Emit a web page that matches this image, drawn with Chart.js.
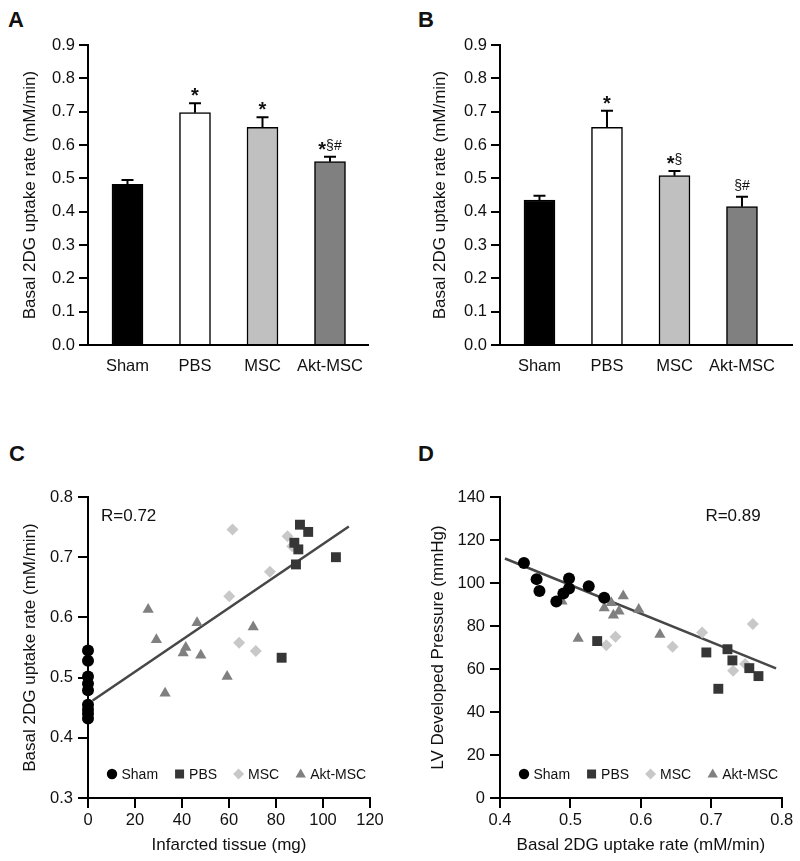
<!DOCTYPE html>
<html>
<head>
<meta charset="utf-8">
<script src="https://cdn.jsdelivr.net/npm/chart.js@4.4.1/dist/chart.umd.min.js"></script>
<style>
  body { margin: 0; width: 800px; height: 861px; background: #fff; position: relative; overflow: hidden; }
  .panel { position: absolute; }
  .letter { position: absolute; font: bold 22px "Liberation Sans", Arial, sans-serif; line-height: 22px; color: #111; }
</style>
</head>
<body>
<div class="letter" style="left:8px;top:9px">A</div>
<div class="letter" style="left:418px;top:9px">B</div>
<div class="letter" style="left:9px;top:443px">C</div>
<div class="letter" style="left:418px;top:443px">D</div>
<div class="panel" style="left:0;top:0"><canvas id="chartA" width="400" height="400"></canvas></div>
<div class="panel" style="left:400px;top:0"><canvas id="chartB" width="400" height="400"></canvas></div>
<div class="panel" style="left:0;top:400px"><canvas id="chartC" width="400" height="461"></canvas></div>
<div class="panel" style="left:400px;top:400px"><canvas id="chartD" width="400" height="461"></canvas></div>

<script>
// ---- data ----
const groups = ['Sham', 'PBS', 'MSC', 'Akt-MSC'];
const barColors = ['#000000', '#ffffff', '#c0c0c0', '#808080'];
const pointColors = ['#000000', '#363636', '#c8c8c8', '#808080'];
const pointStyles = ['circle', 'rect', 'rectRot', 'triangle'];
const pointRadii = [6, 7, 6, 6.5];

// Panel A
const uptakeA = [0.482, 0.697, 0.653, 0.550];
const uptakeErrA = [0.013, 0.028, 0.030, 0.015];
const marksA = ['', '*', '*', '*§#'];
// Panel B
const uptakeB = [0.435, 0.653, 0.508, 0.415];
const uptakeErrB = [0.013, 0.050, 0.014, 0.030];
const marksB = ['', '*', '*§', '§#'];
const barYTicks = [0, 0.1, 0.2, 0.3, 0.4, 0.5, 0.6, 0.7, 0.8, 0.9];

// Panel C: infarcted tissue (mg) vs uptake
const shamInfarctC = [0, 0, 0, 0, 0, 0, 0, 0, 0];
const shamUptakeC = [0.545, 0.528, 0.502, 0.490, 0.479, 0.455, 0.447, 0.440, 0.432];
const pbsInfarctC = [90.2, 93.7, 87.8, 89.5, 88.5, 105.5, 82.4];
const pbsUptakeC = [0.754, 0.742, 0.724, 0.713, 0.688, 0.700, 0.533];
const mscInfarctC = [61.5, 84.9, 86.9, 77.4, 60.1, 64.3, 71.4];
const mscUptakeC = [0.746, 0.735, 0.718, 0.676, 0.635, 0.558, 0.544];
const aktInfarctC = [25.6, 29.1, 32.8, 40.5, 41.6, 46.4, 48.0, 59.2, 70.3];
const aktUptakeC = [0.613, 0.563, 0.474, 0.541, 0.550, 0.591, 0.537, 0.502, 0.584];
const fitXC = [2, 111];
const fitYC = [0.462, 0.751];
const xTicksC = [0, 20, 40, 60, 80, 100, 120];
const yTicksC = [0.3, 0.4, 0.5, 0.6, 0.7, 0.8];

// Panel D: uptake vs LV developed pressure
const shamUptakeD = [0.434, 0.452, 0.456, 0.480, 0.490, 0.498, 0.498, 0.526, 0.548];
const shamPressD = [109.3, 101.8, 96.3, 91.4, 95.1, 102.1, 97.4, 98.5, 93.1];
const pbsUptakeD = [0.538, 0.693, 0.723, 0.730, 0.710, 0.754, 0.767];
const pbsPressD = [73.0, 67.7, 69.2, 64.0, 50.8, 60.4, 56.7];
const mscUptakeD = [0.551, 0.564, 0.645, 0.687, 0.731, 0.748, 0.759];
const mscPressD = [71.1, 75.0, 70.3, 77.0, 59.2, 62.3, 80.9];
const aktUptakeD = [0.488, 0.511, 0.548, 0.558, 0.561, 0.569, 0.575, 0.597, 0.627];
const aktPressD = [91.5, 74.2, 88.4, 90.8, 85.0, 86.9, 94.0, 87.7, 76.1];
const fitXD = [0.407, 0.792];
const fitYD = [111.4, 60.3];
const xTicksD = [0.4, 0.5, 0.6, 0.7, 0.8];
const yTicksD = [0, 20, 40, 60, 80, 100, 120, 140];

// ---- common style ----
const fontFamily = '"Liberation Sans", Arial, sans-serif';
const textColor = '#111';
Chart.defaults.font.family = fontFamily;
Chart.defaults.color = textColor;

const uptakeTitle = 'Basal 2DG uptake rate (mM/min)';

function axisBase(tickLength, tickPadding) {
  return {
    grid: { drawOnChartArea: false, drawTicks: true, tickLength: tickLength, color: '#000', lineWidth: 2 },
    border: { display: true, color: '#000', width: 2 },
    ticks: { font: { size: 16.5 }, color: textColor, padding: tickPadding, autoSkip: false, maxRotation: 0 }
  };
}

// error bars + significance marks
function barExtras(means, errs, marks) {
  return {
    id: 'barExtras',
    afterDatasetsDraw(chart) {
      const ctx = chart.ctx;
      const xs = chart.scales.x, ys = chart.scales.y;
      ctx.save();
      ctx.strokeStyle = '#000';
      ctx.lineWidth = 2;
      means.forEach((m, i) => {
        const px = xs.getPixelForValue(i);
        const top = ys.getPixelForValue(m + errs[i]);
        ctx.beginPath();
        ctx.moveTo(px, ys.getPixelForValue(m));
        ctx.lineTo(px, top);
        ctx.moveTo(px - 6, top);
        ctx.lineTo(px + 6, top);
        ctx.stroke();

        const mark = marks[i];
        if (!mark) return;
        const star = mark.startsWith('*') ? '*' : '';
        const rest = mark.slice(star.length);
        ctx.font = 'bold 20px ' + fontFamily;
        const ws = star ? ctx.measureText(star).width : 0;
        ctx.font = '14px ' + fontFamily;
        const wr = rest ? ctx.measureText(rest).width : 0;
        const x0 = px - (ws + wr) / 2;
        ctx.fillStyle = textColor;
        ctx.textAlign = 'left';
        ctx.textBaseline = 'alphabetic';
        if (star) {
          ctx.font = 'bold 20px ' + fontFamily;
          ctx.fillText(star, x0, top - 1);
        }
        if (rest) {
          ctx.font = '14px ' + fontFamily;
          ctx.fillText(rest, x0 + ws, top - 7);
        }
      });
      ctx.restore();
    }
  };
}

function makeBarChart(id, means, errs, marks, pad, yWidth, xMin, xMax) {
  const x = axisBase(8, 4);
  x.type = 'linear';
  x.min = xMin;
  x.max = xMax;
  x.offset = false;
  x.grid = { display: false, offset: false, tickLength: 8 };
  x.afterBuildTicks = s => { s.ticks = groups.map((g, i) => ({ value: i })); };
  x.ticks.callback = v => groups[v];
  x.afterFit = s => { s.height = 55; };

  const y = axisBase(9, 4);
  y.min = 0;
  y.max = 0.9;
  y.afterBuildTicks = s => { s.ticks = barYTicks.map(v => ({ value: v })); };
  y.ticks.callback = v => v.toFixed(1);
  y.title = { display: true, text: uptakeTitle, font: { size: 17 }, color: textColor, padding: { top: 4, bottom: 4 } };
  y.afterFit = s => { s.width = yWidth; };

  return new Chart(document.getElementById(id), {
    type: 'bar',
    data: {
      datasets: [{
        data: means.map((v, i) => ({ x: i, y: v })),
        backgroundColor: barColors,
        borderColor: '#000',
        borderWidth: 1.5,
        barThickness: 31
      }]
    },
    options: {
      responsive: false,
      animation: false,
      layout: { padding: pad },
      plugins: { legend: { display: false }, tooltip: { enabled: false } },
      scales: { x: x, y: y }
    },
    plugins: [barExtras(means, errs, marks)]
  });
}

function drawMarker(ctx, style, x, y, color) {
  ctx.fillStyle = color;
  ctx.beginPath();
  if (style === 'circle') {
    ctx.arc(x, y, 5.2, 0, Math.PI * 2);
  } else if (style === 'rect') {
    ctx.rect(x - 4.5, y - 4.5, 9, 9);
  } else if (style === 'rectRot') {
    ctx.moveTo(x, y - 5.5); ctx.lineTo(x + 5.5, y); ctx.lineTo(x, y + 5.5); ctx.lineTo(x - 5.5, y);
  } else {
    ctx.moveTo(x, y - 5.5); ctx.lineTo(x + 5.2, y + 3.5); ctx.lineTo(x - 5.2, y + 3.5);
  }
  ctx.closePath();
  ctx.fill();
}

function scatterExtras(rText, rightAligned) {
  return {
    id: 'scatterExtras',
    afterDraw(chart) {
      const { ctx, chartArea } = chart;
      ctx.save();
      ctx.font = '17px ' + fontFamily;
      ctx.fillStyle = textColor;
      ctx.textBaseline = 'middle';
      if (rightAligned) {
        ctx.textAlign = 'right';
        ctx.fillText(rText, chartArea.right - 21, chartArea.top + 19);
      } else {
        ctx.textAlign = 'left';
        ctx.fillText(rText, chartArea.left + 13, chartArea.top + 19);
      }
      // legend along the bottom of the plot
      let lx = chartArea.left + 24;
      const ly = chartArea.bottom - 24;
      ctx.font = '14px ' + fontFamily;
      ctx.textAlign = 'left';
      groups.forEach((g, i) => {
        drawMarker(ctx, pointStyles[i], lx, ly, pointColors[i]);
        ctx.fillStyle = textColor;
        ctx.fillText(g, lx + 9.5, ly + 1);
        lx += 9.5 + ctx.measureText(g).width + 21.5;
      });
      ctx.restore();
    }
  };
}

function makeScatterChart(id, series, fitX, fitY, opts) {
  const datasets = series.map((s, i) => ({
    label: groups[i],
    data: s.x.map((v, j) => ({ x: v, y: s.y[j] })),
    pointStyle: pointStyles[i],
    pointRadius: pointRadii[i],
    pointBackgroundColor: pointColors[i],
    pointBorderWidth: 0,
    showLine: false,
    clip: false,
    order: 1
  }));
  datasets.push({
    label: 'fit',
    data: fitX.map((v, j) => ({ x: v, y: fitY[j] })),
    showLine: true,
    borderColor: '#474747',
    borderWidth: 2.6,
    pointRadius: 0,
    clip: false,
    order: 5
  });

  const x = axisBase(10, 3);
  x.type = 'linear';
  x.min = opts.xTicks[0];
  x.max = opts.xTicks[opts.xTicks.length - 1];
  x.afterBuildTicks = s => { s.ticks = opts.xTicks.map(v => ({ value: v })); };
  x.ticks.callback = opts.xFormat;
  x.title = { display: true, text: opts.xTitle, font: { size: 17 }, color: textColor, padding: { top: 4, bottom: 4 } };
  x.afterFit = s => { s.height = 61.2; };

  const y = axisBase(10, 5);
  y.min = opts.yTicks[0];
  y.max = opts.yTicks[opts.yTicks.length - 1];
  y.afterBuildTicks = s => { s.ticks = opts.yTicks.map(v => ({ value: v })); };
  y.ticks.callback = opts.yFormat;
  y.title = { display: true, text: opts.yTitle, font: { size: 17 }, color: textColor, padding: { top: 4, bottom: 4 } };
  y.afterFit = s => { s.width = opts.yWidth; };

  return new Chart(document.getElementById(id), {
    type: 'scatter',
    data: { datasets: datasets },
    options: {
      responsive: false,
      animation: false,
      layout: { padding: opts.pad },
      plugins: { legend: { display: false }, tooltip: { enabled: false } },
      scales: { x: x, y: y }
    },
    plugins: [scatterExtras(opts.rText, opts.rRight)]
  });
}

// ---- build panels ----
makeBarChart('chartA', uptakeA, uptakeErrA, marksA, { left: 16, top: 45, right: 32, bottom: 0 }, 72, -0.585, 3.563);
makeBarChart('chartB', uptakeB, uptakeErrB, marksB, { left: 26, top: 45, right: 8, bottom: 0 }, 74, -0.585, 3.741);

makeScatterChart('chartC', [
  { x: shamInfarctC, y: shamUptakeC },
  { x: pbsInfarctC, y: pbsUptakeC },
  { x: mscInfarctC, y: mscUptakeC },
  { x: aktInfarctC, y: aktUptakeC }
], fitXC, fitYC, {
  xTicks: xTicksC, yTicks: yTicksC,
  xFormat: v => String(v), yFormat: v => v.toFixed(1),
  xTitle: 'Infarcted tissue (mg)', yTitle: uptakeTitle,
  pad: { left: 16, top: 97, right: 30, bottom: 1.8 }, yWidth: 72,
  rText: 'R=0.72', rRight: false
});

makeScatterChart('chartD', [
  { x: shamUptakeD, y: shamPressD },
  { x: pbsUptakeD, y: pbsPressD },
  { x: mscUptakeD, y: mscPressD },
  { x: aktUptakeD, y: aktPressD }
], fitXD, fitYD, {
  xTicks: xTicksD, yTicks: yTicksD,
  xFormat: v => v.toFixed(1), yFormat: v => String(v),
  xTitle: uptakeTitle, yTitle: 'LV Developed Pressure (mmHg)',
  pad: { left: 24, top: 97, right: 18.3, bottom: 1.8 }, yWidth: 76,
  rText: 'R=0.89', rRight: true
});
</script>
</body>
</html>
